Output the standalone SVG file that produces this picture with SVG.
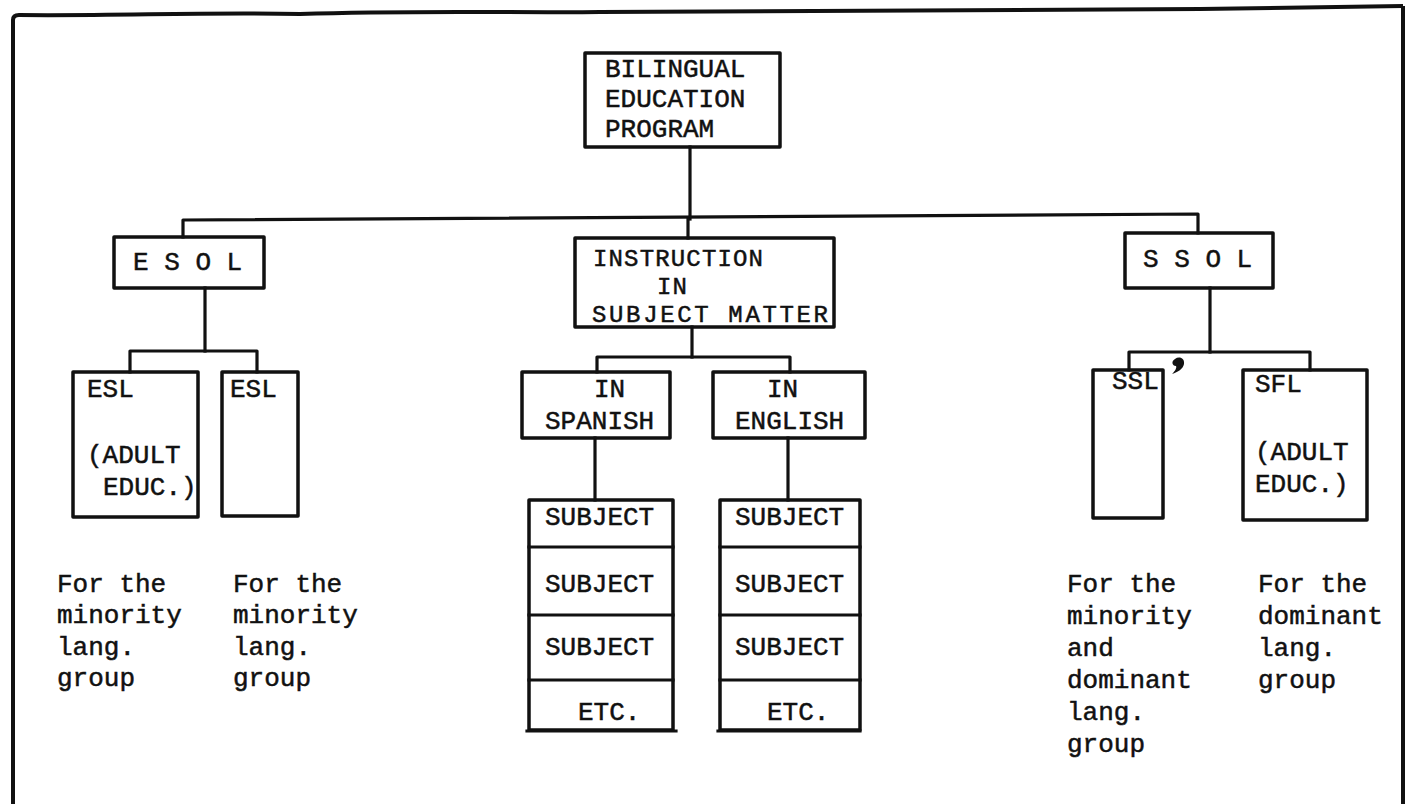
<svg xmlns="http://www.w3.org/2000/svg" width="1405" height="804" viewBox="0 0 1405 804">
<style>
.box{fill:none;stroke:#111;stroke-width:3.5;stroke-linejoin:round}
.ln{fill:none;stroke:#111;stroke-width:3.2;stroke-linejoin:round;stroke-linecap:square}
.frame{fill:none;stroke:#111;stroke-width:4;stroke-linejoin:round}
.t{font-family:"Liberation Mono","Courier New",monospace;font-size:26px;fill:#111;stroke:#111;stroke-width:0.5}
.s{font-size:24px}
</style>
<rect width="1405" height="804" fill="#fff"/>
<g id="frame">
<path class="frame" d="M13 804 V20 Q13 15 19 15 C120 16 200 12 300 14 C420 10 520 13 600 12 C800 11 1000 10 1200 9 C1300 8 1360 7 1403 6"/>
<path class="frame" d="M1403 6 V804" stroke-width="2"/>
</g>
<g id="connectors">
<path class="ln" d="M690 147 V219"/>
<path class="ln" d="M183 237 V220 L1198 214 V233"/>
<path class="ln" d="M688 219 V238"/>
<path class="ln" d="M205 288 V351"/>
<path class="ln" d="M130 372 V351 H257 V372"/>
<path class="ln" d="M692 327 V357"/>
<path class="ln" d="M597 372 V357 H790 V372"/>
<path class="ln" d="M595 438 V500"/>
<path class="ln" d="M788 438 V500"/>
<path class="ln" d="M1210 288 V352"/>
<path class="ln" d="M1129 370 V352 H1310 V370"/>
</g>
<g id="n-bep">
<rect class="box" x="585" y="53" width="195" height="94"/>
<text class="t" x="605" y="77">BILINGUAL</text>
<text class="t" x="605" y="107">EDUCATION</text>
<text class="t" x="605" y="137">PROGRAM</text>
</g>
<g id="n-esol">
<rect class="box" x="114" y="237" width="150" height="51"/>
<text class="t" x="133" y="270">E S O L</text>
</g>
<g id="n-instruction">
<rect class="box" x="575" y="238" width="259" height="89"/>
<text class="t s" x="593" y="266" textLength="170" lengthAdjust="spacing">INSTRUCTION</text>
<text class="t s" x="657" y="294" textLength="30" lengthAdjust="spacing">IN</text>
<text class="t s" x="592" y="322" textLength="236" lengthAdjust="spacing">SUBJECT MATTER</text>
</g>
<g id="n-ssol">
<rect class="box" x="1125" y="233" width="148" height="55"/>
<text class="t" x="1143" y="267">S S O L</text>
</g>
<g id="n-esl1">
<rect class="box" x="73" y="372" width="125" height="145"/>
<text class="t" x="87" y="397">ESL</text>
<text class="t" x="87" y="463">(ADULT</text>
<text class="t" x="103" y="495">EDUC.)</text>
</g>
<g id="n-esl2">
<rect class="box" x="222" y="372" width="76" height="144"/>
<text class="t" x="230" y="397">ESL</text>
</g>
<g id="n-spanish">
<rect class="box" x="522" y="372" width="148" height="66"/>
<text class="t" x="594" y="397">IN</text>
<text class="t" x="545" y="429">SPANISH</text>
</g>
<g id="n-english">
<rect class="box" x="713" y="372" width="152" height="66"/>
<text class="t" x="767" y="397">IN</text>
<text class="t" x="735" y="429">ENGLISH</text>
</g>
<g id="n-ssl">
<rect class="box" x="1093" y="370" width="70" height="148"/>
<text class="t" x="1112" y="389">SSL</text>
<path d="M1175 359 C1179 356 1185 358 1184 364 C1183 369 1178 372 1172 374 C1175 371 1177 368 1176 366 C1172 366 1171 361 1175 359 Z" fill="#111"/>
</g>
<g id="n-sfl">
<rect class="box" x="1243" y="370" width="124" height="150"/>
<text class="t" x="1255" y="392">SFL</text>
<text class="t" x="1255" y="460">(ADULT</text>
<text class="t" x="1255" y="492">EDUC.)</text>
</g>
<g id="n-stack-spanish">
<rect class="box" x="529" y="500" width="144" height="230"/>
<path class="ln" d="M529 547 H673 M529 615 H673 M529 680 H673"/>
<path class="ln" d="M527 731 H676"/>
<text class="t" x="545" y="525">SUBJECT</text>
<text class="t" x="545" y="592">SUBJECT</text>
<text class="t" x="545" y="655">SUBJECT</text>
<text class="t" x="578" y="720">ETC.</text>
</g>
<g id="n-stack-english">
<rect class="box" x="720" y="500" width="140" height="230"/>
<path class="ln" d="M720 547 H860 M720 615 H860 M720 680 H860"/>
<path class="ln" d="M718 731 H860"/>
<text class="t" x="735" y="525">SUBJECT</text>
<text class="t" x="735" y="592">SUBJECT</text>
<text class="t" x="735" y="655">SUBJECT</text>
<text class="t" x="767" y="720">ETC.</text>
</g>
<g id="note-esl1">
<text class="t" x="57" y="592">For the</text>
<text class="t" x="57" y="623">minority</text>
<text class="t" x="57" y="655">lang.</text>
<text class="t" x="57" y="686">group</text>
</g>
<g id="note-esl2">
<text class="t" x="233" y="592">For the</text>
<text class="t" x="233" y="623">minority</text>
<text class="t" x="233" y="655">lang.</text>
<text class="t" x="233" y="686">group</text>
</g>
<g id="note-ssl">
<text class="t" x="1067" y="592">For the</text>
<text class="t" x="1067" y="624">minority</text>
<text class="t" x="1067" y="656">and</text>
<text class="t" x="1067" y="688">dominant</text>
<text class="t" x="1067" y="720">lang.</text>
<text class="t" x="1067" y="752">group</text>
</g>
<g id="note-sfl">
<text class="t" x="1258" y="592">For the</text>
<text class="t" x="1258" y="624">dominant</text>
<text class="t" x="1258" y="656">lang.</text>
<text class="t" x="1258" y="688">group</text>
</g>
</svg>
